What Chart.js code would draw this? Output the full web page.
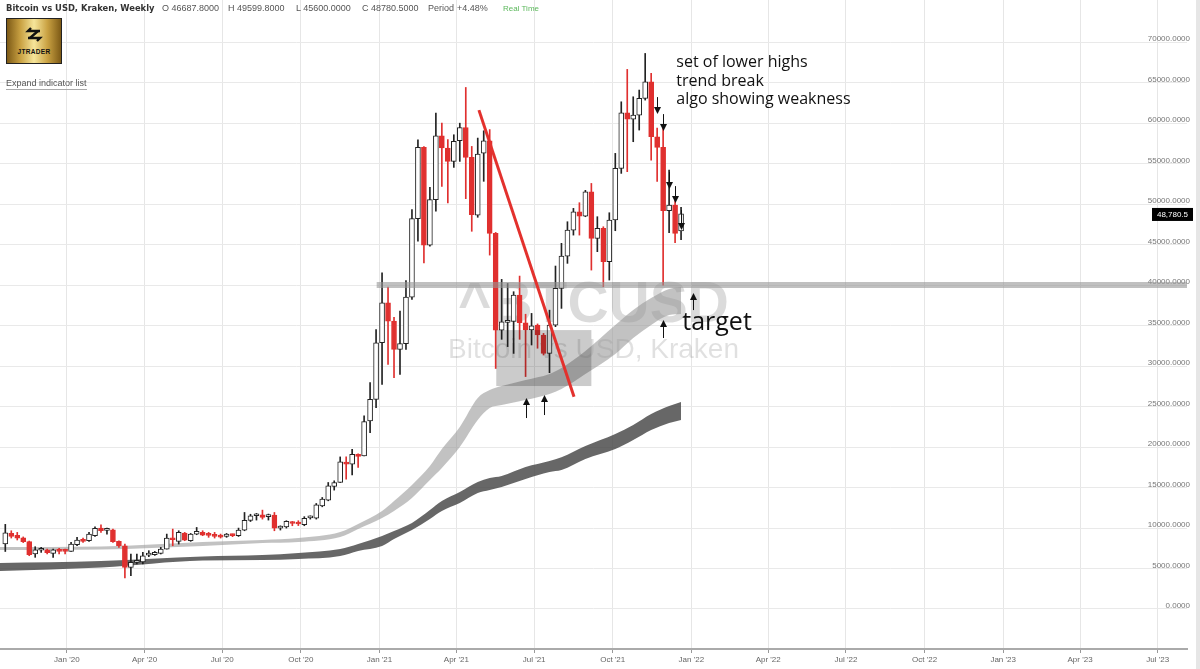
<!DOCTYPE html>
<html>
<head>
<meta charset="utf-8">
<title>Bitcoin vs USD, Kraken, Weekly</title>
<script src="https://cdn.jsdelivr.net/npm/chart.js@4.4.1/dist/chart.umd.min.js"></script>
<style>
  html, body { margin: 0; padding: 0; background: #fff; }
  #wrap { position: relative; width: 1200px; height: 669px; overflow: hidden; }
  #wrap canvas { position: absolute; left: 0; top: 0; }
  .hd { position: absolute; top: 3px; font-family: 'Liberation Sans', Arial, sans-serif; font-size: 9px; color: #555; white-space: nowrap; }
  .title { font-family: 'DejaVu Sans', 'Liberation Sans', sans-serif; font-weight: bold; color: #333; font-size: 8.4px; top: 3px; }
  .rt { color: #5cb85c; font-size: 8px; top: 4px; }
  #logo { position: absolute; left: 6px; top: 18px; width: 54px; height: 44px; border: 1px solid #222;
          background: linear-gradient(90deg, #7d5a16, #c9a142 25%, #f6e59a 50%, #c9a142 75%, #7d5a16); text-align: center; }
  #logo span { position: absolute; left: 0; right: 0; top: 29px; font: bold 6.5px 'Liberation Sans', Arial, sans-serif; color: #111; letter-spacing: 0.3px; }
  #expand { position: absolute; left: 6px; top: 78px; font: 9px 'Liberation Sans', Arial, sans-serif; color: #555; border-bottom: 1px solid #aaa; padding-bottom: 1px; }
  #scroll { position: absolute; left: 1196px; top: 0; width: 4px; height: 669px; background: #e6e6e6; }
</style>
</head>
<body>
<div id="wrap">
  <canvas id="myChart" width="1200" height="669"></canvas>
  <div class="hd title" style="left:6px">Bitcoin vs USD, Kraken, Weekly</div>
  <div class="hd" style="left:162px">O 46687.8000</div>
  <div class="hd" style="left:228px">H 49599.8000</div>
  <div class="hd" style="left:296px">L 45600.0000</div>
  <div class="hd" style="left:362px">C 48780.5000</div>
  <div class="hd" style="left:428px">Period</div>
  <div class="hd" style="left:457px">+4.48%</div>
  <div class="hd rt" style="left:503px">Real Time</div>
  <div id="logo">
    <svg width="22" height="20" viewBox="0 0 22 20" style="margin-top:6px">
      <path d="M17 6 H5 L8 3" stroke="#111" stroke-width="2.4" fill="none"/>
      <path d="M15 6 L7 13" stroke="#111" stroke-width="2.4" fill="none"/>
      <path d="M5 13 H17 L14 16" stroke="#111" stroke-width="2.4" fill="none"/>
    </svg>
    <span>JTRADER</span>
  </div>
  <div id="expand">Expand indicator list</div>
  <div id="scroll"></div>
</div>
<script>
// weekly candles, first week starts Mon 21 Oct 2019
var firstWeek = Date.UTC(2019, 9, 21);
var day0 = Date.UTC(2020, 0, 1);

var open = [8050, 9350, 9100, 8780, 8320, 6790, 7250, 7320, 6870, 7320, 7270, 7110, 7940, 8510, 8430, 9050, 9990, 9700, 9790, 8350,
  7810, 5140, 5760, 5800, 6650, 6700, 6870, 7400, 8760, 8350, 9380, 8430, 9250, 9460, 9250, 9170, 9050, 8960, 9170, 9050,
  9740, 10950, 11510, 11640, 11400, 11590, 9990, 10150, 10700, 10620, 10400, 11260, 11220, 12740, 13440, 15130, 15620, 18090, 17880, 19110,
  18910, 23220, 25890, 32880, 37810, 35550, 32060, 32760, 38510, 48200, 57000, 44920, 50550, 58440, 56920, 55270, 57820, 59460, 55770, 48620,
  56300, 57820, 46380, 34440, 35400, 35500, 38770, 35350, 34450, 35060, 33830, 31560, 35060, 39590, 43580, 46790, 49050, 48520, 51520, 45760,
  47000, 42880, 48030, 54400, 61280, 60490, 60990, 63050, 65100, 58310, 57000, 49180, 49880, 46687.8];
var high = [10450, 9660, 9460, 8900, 8390, 7690, 7610, 7400, 7400, 7490, 7400, 8230, 8840, 8760, 9460, 10160, 10400, 9990, 9870, 8430,
  8020, 6790, 6790, 6990, 7200, 7110, 7610, 9250, 9870, 9660, 9460, 9330, 10070, 9660, 9460, 9460, 9250, 9330, 9250, 9990,
  11920, 11700, 11800, 12210, 11720, 11920, 10270, 10900, 10810, 10900, 11400, 11500, 13030, 13770, 15620, 15830, 18780, 18790, 19730, 19150,
  23840, 27950, 34500, 41510, 39740, 36000, 36780, 40560, 49320, 57940, 57100, 52070, 61230, 60000, 57950, 58560, 59990, 64400, 57120, 58150,
  59050, 59200, 46500, 40700, 40200, 39180, 41110, 36400, 36500, 35200, 34030, 36900, 42350, 45150, 47820, 49470, 50170, 51700, 52550, 48440,
  47200, 48930, 56260, 62630, 66630, 63250, 64080, 68600, 66130, 59380, 59340, 54200, 50500, 49599.8];
var low = [7100, 8760, 8520, 8200, 6580, 6380, 6990, 6790, 6380, 6790, 6790, 7110, 7810, 8220, 8350, 8960, 9460, 9250, 8230, 7610,
  3830, 4120, 5560, 5560, 6460, 6620, 6790, 7400, 7810, 8020, 8430, 8350, 9170, 9050, 8850, 8760, 8760, 8850, 8930, 8960,
  9660, 10800, 10980, 11100, 10980, 9660, 9750, 9990, 10280, 10300, 10280, 11100, 11100, 12620, 13360, 14680, 15620, 16030, 16570, 17470,
  18900, 21780, 24870, 27740, 30210, 28560, 28970, 32060, 38220, 45410, 42740, 44790, 49110, 52190, 50140, 54530, 55270, 50670, 46640, 48370,
  52810, 43700, 29700, 33300, 32400, 31560, 33300, 28700, 32600, 32200, 31360, 29180, 34860, 37120, 42680, 46170, 46170, 48440, 41850, 44120,
  39800, 40620, 46710, 53790, 54000, 57700, 59140, 62840, 55430, 52810, 40000, 46460, 45230, 45600];
var close = [9420, 8970, 8760, 8320, 6710, 7320, 7320, 6950, 7320, 7110, 7110, 8020, 8510, 8350, 9250, 9950, 9660, 9780, 8310, 7810,
  5140, 5760, 5850, 6580, 6750, 6990, 7400, 8760, 8550, 9460, 8510, 9250, 9580, 9130, 9090, 8960, 8880, 9250, 9050, 9740,
  10950, 11510, 11640, 11310, 11520, 9990, 10100, 10810, 10560, 10500, 11180, 11380, 12870, 13570, 15210, 15620, 18170, 17880, 19110, 18830,
  23140, 25890, 32880, 37810, 35550, 32060, 32760, 38510, 48200, 57000, 44920, 50550, 58440, 56920, 55270, 57740, 59460, 55770, 48700, 56180,
  57820, 46380, 34440, 35470, 35550, 38770, 35350, 34450, 34980, 33830, 31560, 35060, 39590, 43580, 46790, 49050, 48520, 51520, 45760, 47000,
  42880, 48030, 54400, 61280, 60490, 60990, 63050, 65100, 58310, 57000, 49180, 49880, 46380, 48780.5];

// moving-average ribbons, sampled at these week numbers
var ribbonWeeks = [-1, 16, 33, 43, 49, 56, 59, 63, 65, 68, 71, 73, 76, 79, 81, 83, 87, 91, 93, 97, 102, 105, 108, 111, 113];
var fastUpper = [7654, 7716, 8272, 8519, 8765, 9506, 10494, 12099, 13333, 15309, 17654, 19753, 22469, 26049, 27037, 27531, 28272, 29012, 29753, 31852, 35062, 36914, 38395, 39506, 39753];
var fastLower = [7284, 7346, 7778, 8148, 8272, 8889, 9877, 11235, 12099, 13704, 15926, 17407, 20000, 23333, 24815, 25185, 25802, 26543, 27160, 29012, 31481, 33457, 35062, 36296, 36420];
var slowUpper = [5679, 5926, 6481, 6667, 6914, 7407, 8025, 9012, 9630, 10617, 12222, 13333, 14444, 15679, 16173, 16420, 17531, 18272, 18728, 20123, 21605, 22716, 24074, 25062, 25556];
var slowLower = [4691, 5123, 5988, 6049, 6173, 6543, 7160, 7778, 8642, 9753, 11111, 12099, 13086, 14321, 14691, 15062, 16049, 16914, 17160, 18519, 19753, 20864, 22099, 22963, 23333];

// drawings on the chart (week numbers and prices)
var levelPrice = 40000;
var levelWeeks = [62.1, 200];
var trendWeeks = [79.2, 95.1];
var trendPrices = [61600, 26200];
var boxWeeks = [82.1, 98.0];
var boxPrices = [27530, 34440];
var arrowWeeks = [109, 110, 111, 112, 113, 115, 110, 87, 90];
var arrowFrom = [63210, 61110, 53950, 52220, 49260, 36910, 33460, 23580, 23950];
var arrowTo = [61110, 59010, 51850, 50120, 46790, 39010, 35680, 26050, 26420];
var noteLines = ['set of lower highs', 'trend break', 'algo showing weakness'];
var noteWeek = 112.2;
var notePrices = [66910, 64570, 62350];
var targetText = 'target';
var targetWeek = 113.2;
var targetPrice = 34440;

var quarterLabels = ["Jan '20", "Apr '20", "Jul '20", "Oct '20", "Jan '21", "Apr '21", "Jul '21", "Oct '21",
  "Jan '22", "Apr '22", "Jul '22", "Oct '22", "Jan '23", "Apr '23", "Jul '23"];
var quarterDates = [[2020, 0], [2020, 3], [2020, 6], [2020, 9], [2021, 0], [2021, 3], [2021, 6], [2021, 9],
  [2022, 0], [2022, 3], [2022, 6], [2022, 9], [2023, 0], [2023, 3], [2023, 6]];
var priceTicks = [0, 5000, 10000, 15000, 20000, 25000, 30000, 35000, 40000, 45000, 50000, 55000, 60000, 65000, 70000];

function weekDay(w) {
  return (firstWeek - day0) / 864e5 + 7 * w;
}
var quarterDays = quarterDates.map(function (d) { return (Date.UTC(d[0], d[1], 1) - day0) / 864e5; });

var RED = '#e0302f';
var DARK = '#222';

var wickData = [], bodyData = [], wickColors = [], bodyFill = [], bodyLine = [];
for (var i = 0; i < open.length; i++) {
  var up = close[i] >= open[i];
  wickData.push({ x: weekDay(i), y: [low[i], high[i]] });
  bodyData.push({ x: weekDay(i), y: [Math.min(open[i], close[i]), Math.max(open[i], close[i])] });
  wickColors.push(up ? DARK : RED);
  bodyFill.push(up ? '#fff' : RED);
  bodyLine.push(up ? DARK : RED);
}

function ribbon(values) {
  return values.map(function (v, k) { return { x: weekDay(ribbonWeeks[k]), y: v }; });
}

var overlay = {
  id: 'overlay',
  beforeDatasetsDraw: function (chart) {
    var a = chart.chartArea, ctx = chart.ctx;
    var cx = (a.left + a.right) / 2, cy = (a.top + a.bottom) / 2;
    ctx.save();
    ctx.textAlign = 'center';
    ctx.fillStyle = 'rgba(0,0,0,0.14)';
    ctx.font = "bold 57px 'Liberation Sans', Arial, sans-serif";
    ctx.fillText('^BTCUSD', cx, cy - 3);
    ctx.fillStyle = 'rgba(0,0,0,0.12)';
    ctx.font = "28px 'Liberation Sans', Arial, sans-serif";
    ctx.fillText('Bitcoin vs USD, Kraken', cx, cy + 33);
    ctx.restore();
  },
  afterDatasetDraw: function (chart, args) {
    if (args.index !== 1) return;
    var x = chart.scales.x, y = chart.scales.y, ctx = chart.ctx;
    var x0 = x.getPixelForValue(weekDay(boxWeeks[0])), x1 = x.getPixelForValue(weekDay(boxWeeks[1]));
    var y0 = y.getPixelForValue(boxPrices[1]), y1 = y.getPixelForValue(boxPrices[0]);
    ctx.save();
    ctx.fillStyle = 'rgba(20,20,20,0.22)';
    ctx.fillRect(x0, y0, x1 - x0, y1 - y0);
    ctx.restore();
  },
  afterDatasetsDraw: function (chart) {
    var x = chart.scales.x, y = chart.scales.y, ctx = chart.ctx;
    ctx.save();
    ctx.strokeStyle = '#111';
    ctx.fillStyle = '#111';
    ctx.lineWidth = 1;
    for (var k = 0; k < arrowWeeks.length; k++) {
      var px = Math.round(x.getPixelForValue(weekDay(arrowWeeks[k]))) + 0.5;
      var ya = y.getPixelForValue(arrowFrom[k]), yb = y.getPixelForValue(arrowTo[k]);
      var dir = yb > ya ? 1 : -1;
      ctx.beginPath();
      ctx.moveTo(px, ya);
      ctx.lineTo(px, yb - dir * 6);
      ctx.stroke();
      ctx.beginPath();
      ctx.moveTo(px, yb);
      ctx.lineTo(px - 3.5, yb - dir * 7);
      ctx.lineTo(px + 3.5, yb - dir * 7);
      ctx.closePath();
      ctx.fill();
    }
    ctx.textAlign = 'left';
    ctx.textBaseline = 'alphabetic';
    ctx.font = "16px 'Open Sans', sans-serif";
    var nx = x.getPixelForValue(weekDay(noteWeek));
    noteLines.forEach(function (t, k) {
      ctx.fillText(t, nx, y.getPixelForValue(notePrices[k]));
    });
    ctx.font = "25px 'Open Sans', sans-serif";
    ctx.fillText(targetText, x.getPixelForValue(weekDay(targetWeek)), y.getPixelForValue(targetPrice));
    ctx.restore();
  },
  afterDraw: function (chart) {
    var y = chart.scales.y, ctx = chart.ctx;
    var last = close[close.length - 1];
    var py = y.getPixelForValue(last);
    ctx.save();
    ctx.fillStyle = '#000';
    ctx.fillRect(1152, py - 6, 41, 13);
    ctx.fillStyle = '#fff';
    ctx.font = "8px 'Liberation Sans', Arial, sans-serif";
    ctx.textAlign = 'center';
    ctx.textBaseline = 'middle';
    ctx.fillText(last.toLocaleString('en-US', { minimumFractionDigits: 1, maximumFractionDigits: 1 }), 1172.5, py + 0.5);
    ctx.restore();
  }
};

var ctx = document.getElementById('myChart').getContext('2d');
new Chart(ctx, {
  type: 'bar',
  data: {
    datasets: [
      { type: 'bar', data: wickData, backgroundColor: wickColors, barThickness: 1, grouped: false, order: 4 },
      { type: 'bar', data: bodyData, backgroundColor: bodyFill, borderColor: bodyLine, borderWidth: 1,
        borderSkipped: false, barThickness: 5, minBarLength: 2, grouped: false, order: 3 },
      { type: 'line', data: ribbon(fastUpper), borderWidth: 0, pointRadius: 0, fill: false,
        cubicInterpolationMode: 'monotone', order: 6 },
      { type: 'line', data: ribbon(fastLower), borderWidth: 0, pointRadius: 0, fill: '-1',
        backgroundColor: 'rgba(150,150,150,0.58)', cubicInterpolationMode: 'monotone', order: 6 },
      { type: 'line', data: ribbon(slowUpper), borderWidth: 0, pointRadius: 0, fill: false,
        cubicInterpolationMode: 'monotone', order: 8 },
      { type: 'line', data: ribbon(slowLower), borderWidth: 0, pointRadius: 0, fill: '-1',
        backgroundColor: 'rgba(70,70,70,0.82)', cubicInterpolationMode: 'monotone', order: 8 },
      { type: 'line', data: levelWeeks.map(function (w) { return { x: weekDay(w), y: levelPrice }; }),
        borderColor: 'rgba(150,150,150,0.6)', borderWidth: 6, pointRadius: 0, fill: false, order: 2 },
      { type: 'line', data: trendWeeks.map(function (w, k) { return { x: weekDay(w), y: trendPrices[k] }; }),
        borderColor: '#e3312d', borderWidth: 3, pointRadius: 0, fill: false, order: 1 }
    ]
  },
  options: {
    responsive: false,
    animation: false,
    devicePixelRatio: 1,
    layout: { padding: { left: 0, right: 13, top: 0, bottom: 0 } },
    plugins: { legend: { display: false }, tooltip: { enabled: false } },
    scales: {
      x: {
        type: 'linear',
        min: -78.2,
        max: 1311.2,
        offset: false,
        afterBuildTicks: function (scale) {
          scale.ticks = quarterDays.map(function (d) { return { value: d }; });
        },
        afterFit: function (scale) {
          scale.height = 20;
          scale.paddingLeft = 0;
          scale.paddingRight = 0;
        },
        ticks: {
          autoSkip: false,
          maxRotation: 0,
          padding: 2,
          color: '#666',
          font: { family: "'Liberation Sans Narrow', 'Liberation Sans', sans-serif", size: 8 },
          callback: function (v, idx) { return quarterLabels[idx]; }
        },
        grid: { color: '#e6e6e6', offset: false, drawTicks: true, tickLength: 4, tickColor: '#999' },
        border: { display: true, color: '#aaa', width: 2 }
      },
      y: {
        type: 'linear',
        position: 'right',
        min: -4940,
        max: 75200,
        afterBuildTicks: function (scale) {
          scale.ticks = priceTicks.map(function (v) { return { value: v }; });
        },
        afterFit: function (scale) {
          scale.width = 0;
          scale.paddingTop = 0;
          scale.paddingBottom = 0;
        },
        ticks: {
          mirror: true,
          padding: 3,
          labelOffset: -3,
          color: '#777',
          font: { family: "'Liberation Sans', Arial, sans-serif", size: 8 },
          callback: function (v) { return Number(v).toFixed(4); }
        },
        grid: { color: '#e9e9e9', drawTicks: false },
        border: { display: false }
      }
    }
  },
  plugins: [overlay]
});
</script>
</body>
</html>
